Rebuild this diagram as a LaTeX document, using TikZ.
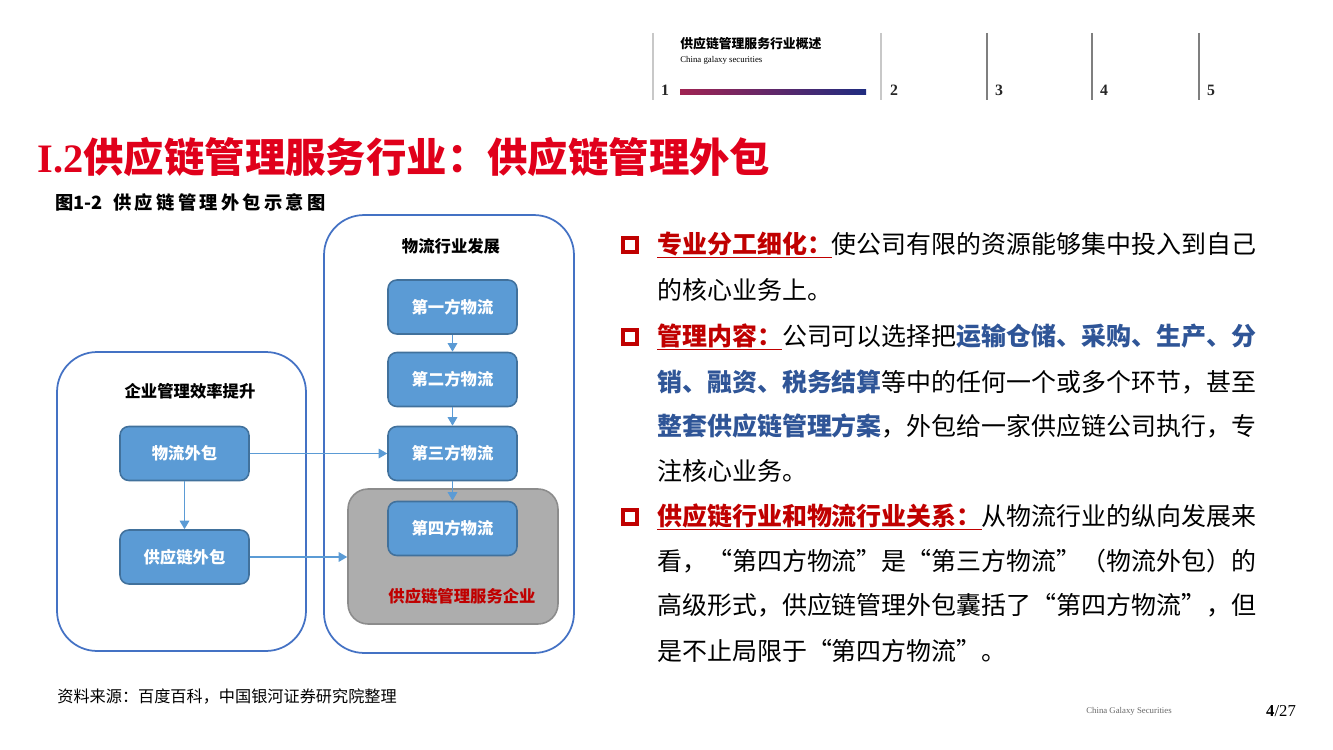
\documentclass[tikz,border=0pt]{standalone}
\usepackage{fontspec}
\setmainfont{Liberation Serif}
\newfontfamily\cjk{Noto Sans CJK SC}
\newfontfamily\cjkwide[LetterSpace=18]{Noto Sans CJK SC}
\usetikzlibrary{arrows.meta, positioning}

\definecolor{titlered}{HTML}{E0001B}
\definecolor{lblred}{HTML}{C00000}
\definecolor{keyblue}{HTML}{2F5597}
\definecolor{boxblue}{HTML}{5B9BD5}
\definecolor{boxedge}{HTML}{41719C}
\definecolor{frameblue}{HTML}{4472C4}
\definecolor{grayfill}{HTML}{ADADAD}
\definecolor{grayedge}{HTML}{8C8C8C}
\definecolor{lightline}{HTML}{C8C8C8}
\definecolor{darkline}{HTML}{7F7F7F}
\definecolor{barred}{HTML}{A02352}
\definecolor{barnavy}{HTML}{1F2C80}

% 蓝色加粗关键词、红色带下划线的小标题
\newcommand\keyw[1]{{\bfseries\color{keyblue}#1}}
\newcommand\lbl[1]{\setbox0\hbox{\bfseries\textcolor{lblred}{#1}}\rlap{\textcolor{lblred}{\rule[-0.2em]{\wd0}{1pt}}}\box0}

\tikzset{
  bluebox/.style={draw=boxedge, fill=boxblue, line width=0.9pt, rounded corners=5pt,
    minimum width=2.58cm, minimum height=1.08cm, text=white,
    font=\cjk\bfseries\fontsize{9.3}{11}\selectfont},
  outerbox/.style={draw=frameblue, line width=1pt, rounded corners=0.8cm},
  grouplbl/.style={font=\cjk\bfseries\fontsize{9.3}{11}\selectfont},
  flow/.style={boxblue, line width=0.8pt, -{Triangle[length=0.17cm, width=0.19cm]}},
  bodyline/.style={anchor=west, inner sep=0pt, font=\cjk\fontsize{14.2}{17}\selectfont},
  bullet/.style={draw=lblred, line width=2.2pt, minimum size=0.27cm, inner sep=0pt},
  headnum/.style={font=\bfseries\fontsize{9}{10}\selectfont, text=black!85},
}

\begin{document}
\begin{tikzpicture}[x=0.02cm, y=-0.02cm]
\useasboundingbox (0,0) rectangle (1333,750);

% 页眉：分隔竖线、标题与页码
\foreach \x/\c in {653/lightline, 881/lightline, 987/darkline, 1092/darkline, 1199/darkline}
  \draw[\c, line width=0.8pt] (\x,33) -- (\x,100);
\node[anchor=west, inner sep=0pt, font=\cjk\bfseries\fontsize{7.3}{8}\selectfont] (hdtitle) at (680,44) {供应链管理服务行业概述};
\node[anchor=west, inner sep=0pt, font=\fontsize{5}{6}\selectfont] (hdsub) at (680,60) {China galaxy securities};
\shade[left color=barred, middle color=barnavy, right color=barnavy] (680,90) rectangle (866,95);
\node[headnum] (n1) at (665,90) {1};
\node[headnum] (n2) at (894,90) {2};
\node[headnum] (n3) at (999,90) {3};
\node[headnum] (n4) at (1104,90) {4};
\node[headnum] (n5) at (1211,90) {5};

% 大标题
\node[anchor=west, inner sep=0pt, text=titlered, font=\bfseries\fontsize{23}{26}\selectfont] (title) at (37,157)
  {I.2\cjk 供应链管理服务行业：供应链管理外包};

% 图题
\node[anchor=west, inner sep=0pt, font=\cjk\bfseries\fontsize{10.4}{12}\selectfont] (cap) at (55,203)
  {图1-2\hspace{6pt}{\cjkwide 供应链管理外包示意图}};

% 两个外框
\node[outerbox, minimum width=4.98cm, minimum height=5.98cm] (effbox) at (181.5,501.5) {};
\node[outerbox, minimum width=5cm, minimum height=8.76cm] (devbox) at (449,434) {};
\node[grouplbl] (efflbl) at (190,391) {企业管理效率提升};
\node[grouplbl] (devlbl) at (451,246) {物流行业发展};

% 供应链管理服务企业（灰框）
\node[draw=grayedge, fill=grayfill, line width=0.9pt, rounded corners=0.4cm,
  minimum width=4.2cm, minimum height=2.7cm] (scm) at (453,556.5) {};
\node[grouplbl, text=lblred] (scmlbl) at (462,596) {供应链管理服务企业};

% 物流发展各阶段
\node[bluebox] (d1) at (452.5,307) {第一方物流};
\node[bluebox] (d2) at (452.5,379.5) {第二方物流};
\node[bluebox] (d3) at (452.5,453.5) {第三方物流};
\node[bluebox] (d4) at (452.5,528.5) {第四方物流};

% 企业外包
\node[bluebox] (wl) at (184.5,453.5) {物流外包};
\node[bluebox] (gyl) at (184.5,557) {供应链外包};

% 箭头
\draw[flow] (d1) -- (d2);
\draw[flow] (d2) -- (d3);
\draw[flow] (d3) -- (d4);
\draw[flow] (wl) -- (gyl);
\draw[flow] (wl) -- (d3);
\draw[flow] (gyl.east) -- (gyl.east -| scm.west);

% 右侧要点
\node[bullet] (b1) at (630,245) {};
\node[bullet] (b2) at (630,337) {};
\node[bullet] (b3) at (630,517) {};

\node[bodyline] (l1) at (657,245) {\lbl{专业分工细化：}使公司有限的资源能够集中投入到自己};
\node[bodyline] (l2) at (657,290) {的核心业务上。};
\node[bodyline] (l3) at (657,337) {\lbl{管理内容：}公司可以选择把\keyw{运输仓储、采购、生产、分}};
\node[bodyline] (l4) at (657,382) {\keyw{销、融资、税务结算}等中的任何一个或多个环节，甚至};
\node[bodyline] (l5) at (657,426) {\keyw{整套供应链管理方案}，外包给一家供应链公司执行，专};
\node[bodyline] (l6) at (657,471) {注核心业务。};
\node[bodyline] (l7) at (657,517) {\lbl{供应链行业和物流行业关系：}从物流行业的纵向发展来};
\node[bodyline] (l8) at (657,561) {看，“第四方物流”是“第三方物流”（物流外包）的};
\node[bodyline] (l9) at (657,605) {高级形式，供应链管理外包囊括了“第四方物流”，但};
\node[bodyline] (l10) at (657,651) {是不止局限于“第四方物流”。};

% 页脚
\node[anchor=west, inner sep=0pt, font=\cjk\fontsize{9.2}{11}\selectfont] (src) at (57,697) {资料来源：百度百科，中国银河证券研究院整理};
\node[font=\fontsize{5}{6}\selectfont, text=black!60] (foot) at (1129,711) {China Galaxy Securities};
\node[font=\fontsize{9.5}{11}\selectfont] (page) at (1281,711) {{\bfseries 4}/27};
\end{tikzpicture}
\end{document}
